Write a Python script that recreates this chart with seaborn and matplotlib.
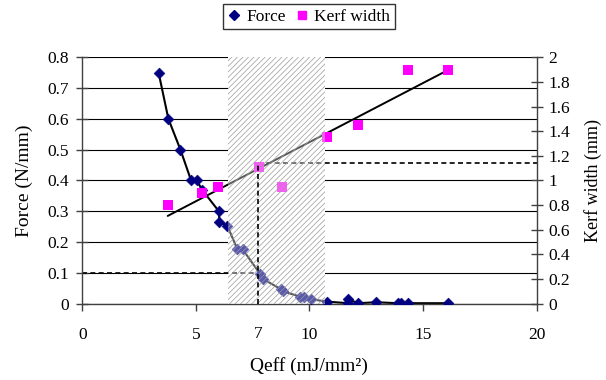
import numpy as np
import pandas as pd
import matplotlib
matplotlib.use("Agg")
import matplotlib.pyplot as plt
from matplotlib.patches import Rectangle
from matplotlib.lines import Line2D
import seaborn as sns

# ---------------- data ----------------
force_q = [3.36, 3.79, 4.32, 4.79, 5.04, 5.27, 6.01, 6.04, 6.39, 6.83, 7.06,
           7.83, 7.97, 8.76, 8.82, 9.60, 9.75, 10.06, 10.79, 11.70, 11.70,
           12.15, 12.94, 13.89, 14.03, 14.35, 16.12]
force = [0.75, 0.60, 0.50, 0.40, 0.40, 0.37, 0.30, 0.266, 0.252, 0.176, 0.176,
         0.096, 0.079, 0.046, 0.040, 0.022, 0.020, 0.014, 0.006, 0.014, 0.001,
         0.001, 0.004, 0.001, 0.001, 0.001, 0.001]

kerf_q = [3.76, 5.27, 5.96, 7.80, 8.78, 10.79, 12.13, 14.35, 16.11]
kerf = [0.80, 0.90, 0.95, 1.11, 0.95, 1.35, 1.45, 1.90, 1.90]

zone = [6.4, 10.7]          # hatched Qeff window
thr_q = 7.75                # marked Qeff
thr_force = 0.1
thr_kerf = 1.14

x_ticks = [0, 5, 10, 15, 20]
x_ticklabels = ["0", "5", "10", "15", "20"]
thr_label = "7"
f_ticks = [0, 0.1, 0.2, 0.3, 0.4, 0.5, 0.6, 0.7, 0.8]
f_ticklabels = ["0", "0.1", "0.2", "0.3", "0.4", "0.5", "0.6", "0.7", "0.8"]
k_ticks = [0, 0.2, 0.4, 0.6, 0.8, 1.0, 1.2, 1.4, 1.6, 1.8, 2.0]
k_ticklabels = ["0", "0.2", "0.4", "0.6", "0.8", "1", "1.2", "1.4", "1.6", "1.8", "2"]

# ---------------- style ----------------
sns.set_theme(style="white")
plt.rcParams["font.family"] = ["Liberation Serif", "DejaVu Serif"]
plt.rcParams["text.color"] = "black"
plt.rcParams["axes.labelcolor"] = "black"
plt.rcParams["hatch.linewidth"] = 0.5
plt.rcParams["hatch.color"] = "#9a9a9a"

W, H = 606, 380
fig = plt.figure(figsize=(W / 100, H / 100), dpi=100)
L, R, T, B = 82.3, 536.5, 57.3, 303.5
ax = fig.add_axes([L / W, 1 - B / H, (R - L) / W, (B - T) / H])
ax2 = ax.twinx()

fs_tick = 12.5
fs_label = 14

df_f = pd.DataFrame({"q": force_q, "f": force})
df_k = pd.DataFrame({"q": kerf_q, "k": kerf})

# force curve + points
sns.lineplot(data=df_f, x="q", y="f", estimator=None, sort=True, color="black",
             lw=1.5, ax=ax, zorder=2)
sns.scatterplot(data=df_f, x="q", y="f", marker="D", color="#000080",
                edgecolor="#000080", s=30, ax=ax, zorder=3)

# white cover of grid under hatched window
ax.add_patch(Rectangle((zone[0], 0), zone[1] - zone[0], 0.8, facecolor="white",
                       lw=0, zorder=0.7))
# left dashed line
ax.plot([0, thr_q], [thr_force, thr_force], color="black", lw=1.2,
        dashes=(3, 2), zorder=2)

# kerf points + trend
sns.regplot(data=df_k, x="q", y="k", scatter=False, ci=None, truncate=True,
            color="black", line_kws={"lw": 1.4, "zorder": 2}, ax=ax2)
sns.scatterplot(data=df_k, x="q", y="k", marker="s", color="#FF00FF",
                linewidth=0, s=42, ax=ax2, zorder=3)
ax2.plot([thr_q, 20], [thr_kerf, thr_kerf], color="black", lw=1.2,
         dashes=(3, 2), zorder=2.5)

# hatched window on top
ax2.add_patch(Rectangle((zone[0], 0), zone[1] - zone[0], 2,
                        facecolor=(1, 1, 1, 0.35), edgecolor="#9a9a9a", lw=0,
                        hatch="//////", zorder=10))
ax2.plot([thr_q, thr_q], [0, thr_kerf], color="black", lw=1.2,
         dashes=(3, 2), zorder=11)

# ---------------- axes ----------------
ax.set_xlim(0, 20)
ax.set_ylim(0, 0.8)
ax2.set_ylim(0, 2)
ax.set_xticks(x_ticks)
ax.set_xticklabels(x_ticklabels)
ax.set_yticks(f_ticks)
ax.set_yticklabels(f_ticklabels)
ax2.set_yticks(k_ticks)
ax2.set_yticklabels(k_ticklabels)

ax.yaxis.grid(True, color="black", lw=0.8)
ax.xaxis.grid(False)
ax.set_axisbelow(True)

for a in (ax, ax2):
    for s in a.spines.values():
        s.set_visible(False)
ax.spines["left"].set_visible(True)
ax.spines["bottom"].set_visible(True)
ax2.spines["right"].set_visible(True)
for sp in (ax.spines["left"], ax.spines["bottom"], ax2.spines["right"]):
    sp.set_color("#404040")
    sp.set_linewidth(1.0)

ax.tick_params(axis="x", bottom=True, direction="out", length=5, width=1,
               color="#404040", pad=12, labelsize=fs_tick, labelcolor="black")
ax.tick_params(axis="y", left=True, direction="inout", length=9, width=1,
               color="#404040", pad=5, labelsize=fs_tick, labelcolor="black")
ax2.tick_params(axis="y", right=True, direction="inout", length=9, width=1,
                color="#404040", pad=4, labelsize=fs_tick, labelcolor="black")

# the "7" marker label under the dashed line
ax.annotate(thr_label, xy=(thr_q, 0), xycoords=("data", "axes fraction"),
            xytext=(0, -12.5 - 5 * 0.72), textcoords="offset points",
            ha="center", va="top", fontsize=fs_tick, color="black")

ax.set_xlabel("Qeff (mJ/mm²)", fontsize=fs_label, color="black")
ax.set_ylabel("Force (N/mm)", fontsize=fs_label, color="black")
ax2.set_ylabel("Kerf width (mm)", fontsize=fs_tick + 0.5, rotation=90,
               color="black")
ax.xaxis.set_label_coords(0.5, (B - 366) / (B - T))
ax.xaxis.label.set_va("center")
ax.yaxis.set_label_coords((24 - L) / (R - L), 0.5)
ax.yaxis.label.set_va("center")
ax2.yaxis.set_label_coords((593 - L) / (R - L), 0.5)
ax2.yaxis.label.set_va("center")

# legend
handles = [Line2D([], [], marker="D", color="#000080", ls="none", markersize=5),
           Line2D([], [], marker="s", color="#FF00FF", ls="none", markersize=6)]
leg = fig.legend(handles, ["Force", "Kerf width"], loc="center",
                 bbox_to_anchor=(309 / W, 1 - 16.7 / H), ncol=2,
                 fontsize=fs_tick, frameon=True, fancybox=False,
                 handlelength=0.7, handletextpad=0.35, columnspacing=0.6,
                 borderpad=0.25, borderaxespad=0)
leg.get_frame().set_edgecolor("black")
leg.get_frame().set_linewidth(1.0)
for t in leg.get_texts():
    t.set_color("black")

fig.savefig("out.png", dpi=100)
